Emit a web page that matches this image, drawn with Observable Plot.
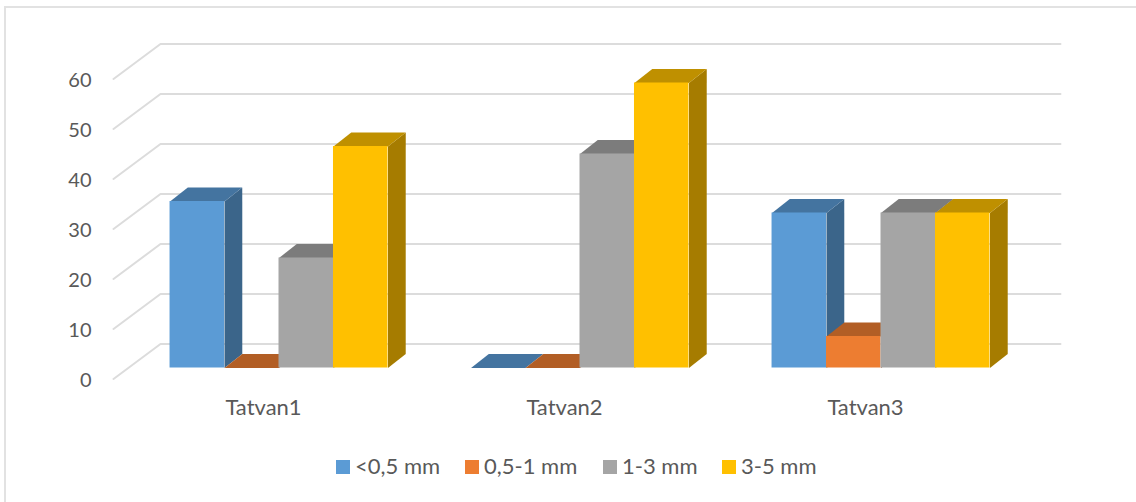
<!DOCTYPE html>
<html>
<head>
<meta charset="utf-8">
<script src="https://cdn.jsdelivr.net/npm/d3@7"></script>
<script src="https://cdn.jsdelivr.net/npm/@observablehq/plot@0.6"></script>
<style>
  html, body { margin: 0; padding: 0; background: #fff; }
  #frame { position: relative; width: 1136px; height: 502px; overflow: hidden; font-family: Lato, sans-serif; }
  #border { position: absolute; left: 4px; top: 6px; width: 1200px; height: 600px; border: 2px solid #e2e2e2; box-sizing: content-box; }
  #chart { position: absolute; left: 0; top: 0; }
  #legend { position: absolute; top: 453px; left: 0; height: 26px; width: 1136px; color: #595959; font-size: 22px; line-height: 26px; }
  .item { position: absolute; top: 0; white-space: nowrap; }
  .swatch { position: absolute; top: 7px; left: 0; width: 14px; height: 14px; }
  .label { position: absolute; left: 19px; top: 0; }
</style>
</head>
<body>
<div id="frame">
  <div id="border"></div>
  <div id="chart"></div>
  <div id="legend"></div>
</div>
<script>
const categories = ["Tatvan1", "Tatvan2", "Tatvan3"];
const seriesNames = ["<0,5 mm", "0,5-1 mm", "1-3 mm", "3-5 mm"];
const fine = [33.3, 0, 31];
const medium = [0, 0, 6.3];
const coarse = [22, 42.8, 31];
const gravel = [44.3, 57, 31];
const yTicks = [0, 10, 20, 30, 40, 50, 60];

const seriesValues = [fine, medium, coarse, gravel];
const frontColors = ["#5B9BD5", "#ED7D31", "#A5A5A5", "#FFC000"];
const sideColors = ["#3B658A", "#9A5120", "#6B6B6B", "#A67C00"];
const topColors = ["#4474A0", "#B25E25", "#7C7C7C", "#BF9000"];
const legendLefts = [336, 465, 603, 722];

const barWidth = 0.181;
const groupWidth = barWidth * 4;
const depthX = 0.059;
const depthY = 2.8;

const marks = [];

// walls: each gridline runs along the side wall, then along the back wall
const wall = yTicks.flatMap(t => [
  {t, x: -0.0498, y: t - 2.2},
  {t, x: 0.1063, y: t + 4.8},
  {t, x: 3.0963, y: t + 4.8}
]);
marks.push(Plot.line(wall, {x: "x", y: "y", z: "t", stroke: "#dcdcdc", strokeWidth: 2}));

categories.forEach((cat, c) => {
  seriesValues.forEach((vals, s) => {
    const v = vals[c];
    const x1 = c + 0.5 - groupWidth / 2 + s * barWidth;
    const x2 = x1 + barWidth;
    const side = [[x2, 0], [x2 + depthX, depthY], [x2 + depthX, v + depthY], [x2, v]];
    const top = [[x1, v], [x2, v], [x2 + depthX, v + depthY], [x1 + depthX, v + depthY]];
    if (v > 0) {
      marks.push(Plot.line(side, {x: "0", y: "1", fill: sideColors[s], stroke: "none"}));
    }
    marks.push(Plot.line(top, {x: "0", y: "1", fill: topColors[s], stroke: "none"}));
    if (v > 0) {
      marks.push(Plot.rect([{x1, x2, y1: 0, y2: v}], {x1: "x1", x2: "x2", y1: "y1", y2: "y2", fill: frontColors[s], inset: 0}));
    }
  });
});

marks.push(Plot.axisY({
  ticks: yTicks, tickSize: 0, tickPadding: 22, dy: 13, fontSize: 20, color: "#595959", label: null, anchor: "left", tickFormat: d => String(d)
}));
marks.push(Plot.axisX({
  ticks: categories.map((_, i) => i + 0.5),
  tickFormat: d => categories[Math.floor(d)],
  tickSize: 0, tickPadding: 31, dx: -15.5, fontSize: 22, color: "#595959", label: null, anchor: "bottom"
}));

const plot = Plot.plot({
  width: 1136,
  height: 450,
  marginLeft: 113,
  marginRight: 76,
  marginTop: 40,
  marginBottom: 82.5,
  x: {domain: [0, 3], range: [128, 1031]},
  y: {domain: [0, 60], range: [367.5, 67.5]},
  style: {fontFamily: "Lato, sans-serif", background: "transparent", overflow: "visible"},
  marks
});
document.getElementById("chart").appendChild(plot);

const legend = document.getElementById("legend");
seriesNames.forEach((name, i) => {
  const item = document.createElement("div");
  item.className = "item";
  item.style.left = legendLefts[i] + "px";
  const sw = document.createElement("span");
  sw.className = "swatch";
  sw.style.background = frontColors[i];
  const lab = document.createElement("span");
  lab.className = "label";
  lab.textContent = name;
  item.append(sw, lab);
  legend.appendChild(item);
});
</script>
</body>
</html>
